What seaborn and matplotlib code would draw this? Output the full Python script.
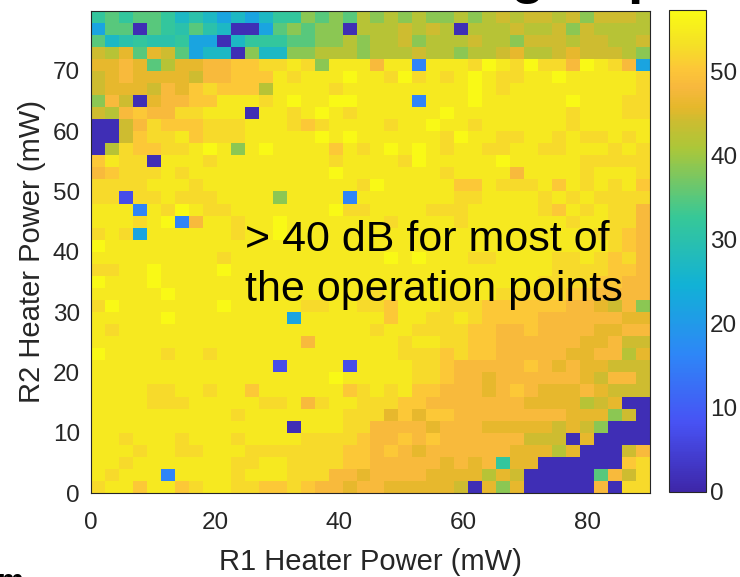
import numpy as np
import pandas as pd
import matplotlib
matplotlib.use("Agg")
import matplotlib.pyplot as plt
from matplotlib.colors import LinearSegmentedColormap
import seaborn as sns

# Extinction ratio level (dB) for each code letter used in the grid below.
code_db = {
    "Y": 57.0, "y": 54.5, "u": 52.5, "o": 50.5, "O": 48.5, "m": 46.0,
    "l": 44.2, "L": 42.0, "g": 38.5, "G": 35.0, "T": 32.0, "t": 30.0,
    "c": 27.0, "b": 22.0, "B": 16.0, "V": 7.0, "D": 1.5,
}

# Measured extinction ratio map: one string per R2 setting (highest first),
# one character per R1 setting (0 ... 90 mW).
er_rows = [
    "TGTGGTctcbcbcTTgGgGL" "gLgLggLgLlLllLlglllL",
    "bGGDGTtGtcDDbGgGggDL" "LLlLlLDLLLlLLlglLLLL",
    "GctTttTbbDcTTTGGggLg" "LLlgLLLlLLglllLllLLl",
    "lLmGmlGbccDgccggLLLg" "LLLlLLgLLlmLLlmlllLg",
    "mmOmGLmmOOoouuyugyyy" "OyyByyyuYyuYuuOYyuOb",
    "lmOmmmmlOOoooyuyyyYy" "yuYuyuyYyuuyyYyyyyyu",
    "lmmmlOmouoooLyyyyuyy" "yyyyyyyYyuyyyyyyyyyu",
    "gOlDmOOooyyyuyYyyYYy" "yyyByyyYyyyyyyYyyyuu",
    "lLOoOOuuyyyDyyuyYyuy" "yyyyyYyyyyyyyyuyyyuu",
    "DDlOuooouuuyyyuouyyy" "yuyyYyyuyyyyyyuyyyyy",
    "DDlouuyouuuyyyyyYyYy" "yyyyyuYyyuuyyuyuuyuy",
    "DLuoouuyYygyYyyyyoyu" "yYyYyuyyuuyyuuyyyuyu",
    "oyuuDyyyuyyyyyyyyuyy" "yyuYyyyyyYyyyyyuuuuu",
    "OouuuyuyyyyyyyyyyYyy" "yyyyyuyyyyOyyyyuyyyu",
    "uuuuyyyuyyyyyyyyyyyu" "Yyyyyyooyuuuyoyuyuyo",
    "uuVuuyuuuyyyygyyyyBy" "yyyyyyuuyyyyuyuyuuuu",
    "yyyByuYyuuyyyyyyyYuu" "yyyyuuuyyyyyuoyuyuuO",
    "yyyuyYBOyyuyyYyyyyyy" "yuyyyyuyyyyyyyuyyuuO",
    "uyubyyyyyyuyyYyyyyyy" "yyyyyyyyyyyyyyyyuuoO",
    "Yyyyyyyyyyyyyyyyyyyy" "yyyyyyyyyyyyyyyyyuoO",
    "yyyyyyyyyuyyyyyyyyyy" "yYyYyyyuuyyyyuuyuouO",
    "uuyyYyyyyYyyyyyyyyyy" "yyyyyyyyyyyyyuuuuooO",
    "YyyyYyyyyyyyyyyyyyyy" "yyyyyyyyyyyyuuuuooOO",
    "yyyyyYyyyyyyyyyyyyyy" "uyyyyyyyyuuuuuooOOOO",
    "uYyyyyyyyYyyyyyuuyyu" "uoyyyuuuooooooOOmlOg",
    "yyyyyYyyyyyyyybyyyyy" "yoyyuuyuooooOOOOOOmm",
    "yuyyyyyyyyyyyyyyyyyy" "uyyuuuuooOOoOOOOmmOO",
    "yyyyyyyyyyyyyyyOyyyy" "yyuyyuuooOOOOOOmmOll",
    "Yyyyyuyyuyyyyyyyyyyy" "yyuuuouooOOOOOmmOOLm",
    "yyyyyyyyyyyyyVyyyyVy" "yyyuuoOOOOOoOmOmmlll",
    "yyyyyyyyyyyyyyyyyYyy" "yyyuuoOOmOOOOOOmlOOl",
    "yyyyuuyyuyyoyyyyyyou" "yuyooOOOmOoOmmmOmlll",
    "yyyyuuuyyyyyuuyOuyyu" "uuooOOOOOOOmmmmLlmDD",
    "yyyyyyyyyyuyyyyyyyuu" "umomooOOOOOOOOmmmglD",
    "yyyyyyyyyyyyyyDyyyuu" "OOOOmOOOmmmmmlmlgDDD",
    "yyuyyyuyyyuyyyyuuuuo" "OOoOoOOOOOOlllDmDDDD",
    "yyyuyyuuyyyuuuuuuuoo" "OoOmOOOOOOmmmLmDDDlO",
    "yyuyyyyyyyuuyyuuuuoo" "OOOOOmOmOTmmDDDDDDou",
    "yuyyyByyyyuyyyuuuOOm" "OOOOmmmmLmlDDDDDGOlu",
    "uyyoyyouyyuuoouoOOmO" "OmmmmmlDmgmDDDDDODuu",
]

# Heater sweep settings (mW)
r1_step = 2.25
r2_step = 2.0
r1_settings = [round(i * r1_step, 2) for i in range(40)]
r2_settings = [round(i * r2_step, 2) for i in range(40)][::-1]

x_ticks = [0, 20, 40, 60, 80]
y_ticks = [0, 10, 20, 30, 40, 50, 60, 70]
cbar_ticks = [0, 10, 20, 30, 40, 50]
er_max = 57.3

annotation_lines = ["> 40 dB for most of", "the operation points"]

# Parula-style colour ramp
parula_nodes = [
    (0.000, (0.2422, 0.1504, 0.6603)),
    (0.143, (0.2810, 0.3228, 0.9579)),
    (0.286, (0.1786, 0.5289, 0.9682)),
    (0.429, (0.0689, 0.6948, 0.8394)),
    (0.571, (0.2161, 0.7843, 0.5923)),
    (0.714, (0.6720, 0.7793, 0.2227)),
    (0.770, (0.8000, 0.7400, 0.1900)),
    (0.800, (0.9000, 0.7200, 0.1700)),
    (0.840, (0.9700, 0.7200, 0.2400)),
    (0.880, (0.9900, 0.7800, 0.2200)),
    (0.930, (0.9600, 0.8800, 0.1500)),
    (1.000, (0.9769, 0.9839, 0.0805)),
]
parula = LinearSegmentedColormap.from_list("parula_like", parula_nodes, N=256)

sns.set_theme(style="white")
plt.rcParams["font.family"] = ["Liberation Sans", "DejaVu Sans"]
ink = "#262626"

W, H = 740, 577
fig = plt.figure(figsize=(W / 100, H / 100), dpi=100)
ax = fig.add_axes([91 / W, (H - 493) / H, (650 - 91) / W, (493 - 10.5) / H])
cax = fig.add_axes([669 / W, (H - 492) / H, 37 / W, (492 - 10) / H])

er = np.array([[code_db[ch] for ch in row] for row in er_rows])
df = pd.DataFrame(er, index=r2_settings, columns=r1_settings)

sns.heatmap(df, ax=ax, cbar_ax=cax, cmap=parula, vmin=0, vmax=er_max,
            xticklabels=False, yticklabels=False, linewidths=0)

# axis ticks expressed in heater power (mW)
n_rows = er.shape[0]
ax.set_xticks([v / r1_step for v in x_ticks])
ax.set_xticklabels([str(v) for v in x_ticks])
ax.set_yticks([n_rows - v / r2_step for v in y_ticks])
ax.set_yticklabels([str(v) for v in y_ticks], rotation=0)
ax.tick_params(axis="both", direction="in", length=5, width=0.6, color=ink,
               labelsize=17.5, labelcolor=ink, bottom=True, left=True)
ax.tick_params(axis="x", pad=14)
ax.tick_params(axis="y", pad=8)
for s in ax.spines.values():
    s.set_visible(True)
    s.set_color(ink)
    s.set_linewidth(0.8)

ax.set_xlabel("R1 Heater Power (mW)", fontsize=21, color=ink, labelpad=10)
ax.set_ylabel("R2 Heater Power (mW)", fontsize=21, color=ink, labelpad=5)

cb = ax.collections[0].colorbar
cb.set_ticks(cbar_ticks)
cb.set_ticklabels([str(v) for v in cbar_ticks])
cb.ax.tick_params(direction="in", length=5, width=0.6, color=ink,
                  labelsize=17.5, labelcolor=ink, right=True, left=False, pad=3)
cb.outline.set_visible(True)
cb.outline.set_edgecolor(ink)
cb.outline.set_linewidth(0.8)

# annotation on the map
ax_left, ax_bottom = 91, 493
ax_w, ax_h = 650 - 91, 493 - 10.5
for line, base_px in zip(annotation_lines, [251, 301.5]):
    ax.text((245 - ax_left) / ax_w, (ax_bottom - base_px) / ax_h, line,
            transform=ax.transAxes, fontsize=31, color="black",
            ha="left", va="baseline")

# slide title / caption fragments at the page edges
fig.text(511 / W, 1 + 8 / H, "g of p", fontsize=40, fontweight="bold",
         color="black", ha="left", va="baseline")
fig.text(-2 / W, (H - 590) / H, "m", fontsize=21, fontweight="bold",
         color="black", ha="left", va="baseline")

fig.savefig("out.png", dpi=100)
